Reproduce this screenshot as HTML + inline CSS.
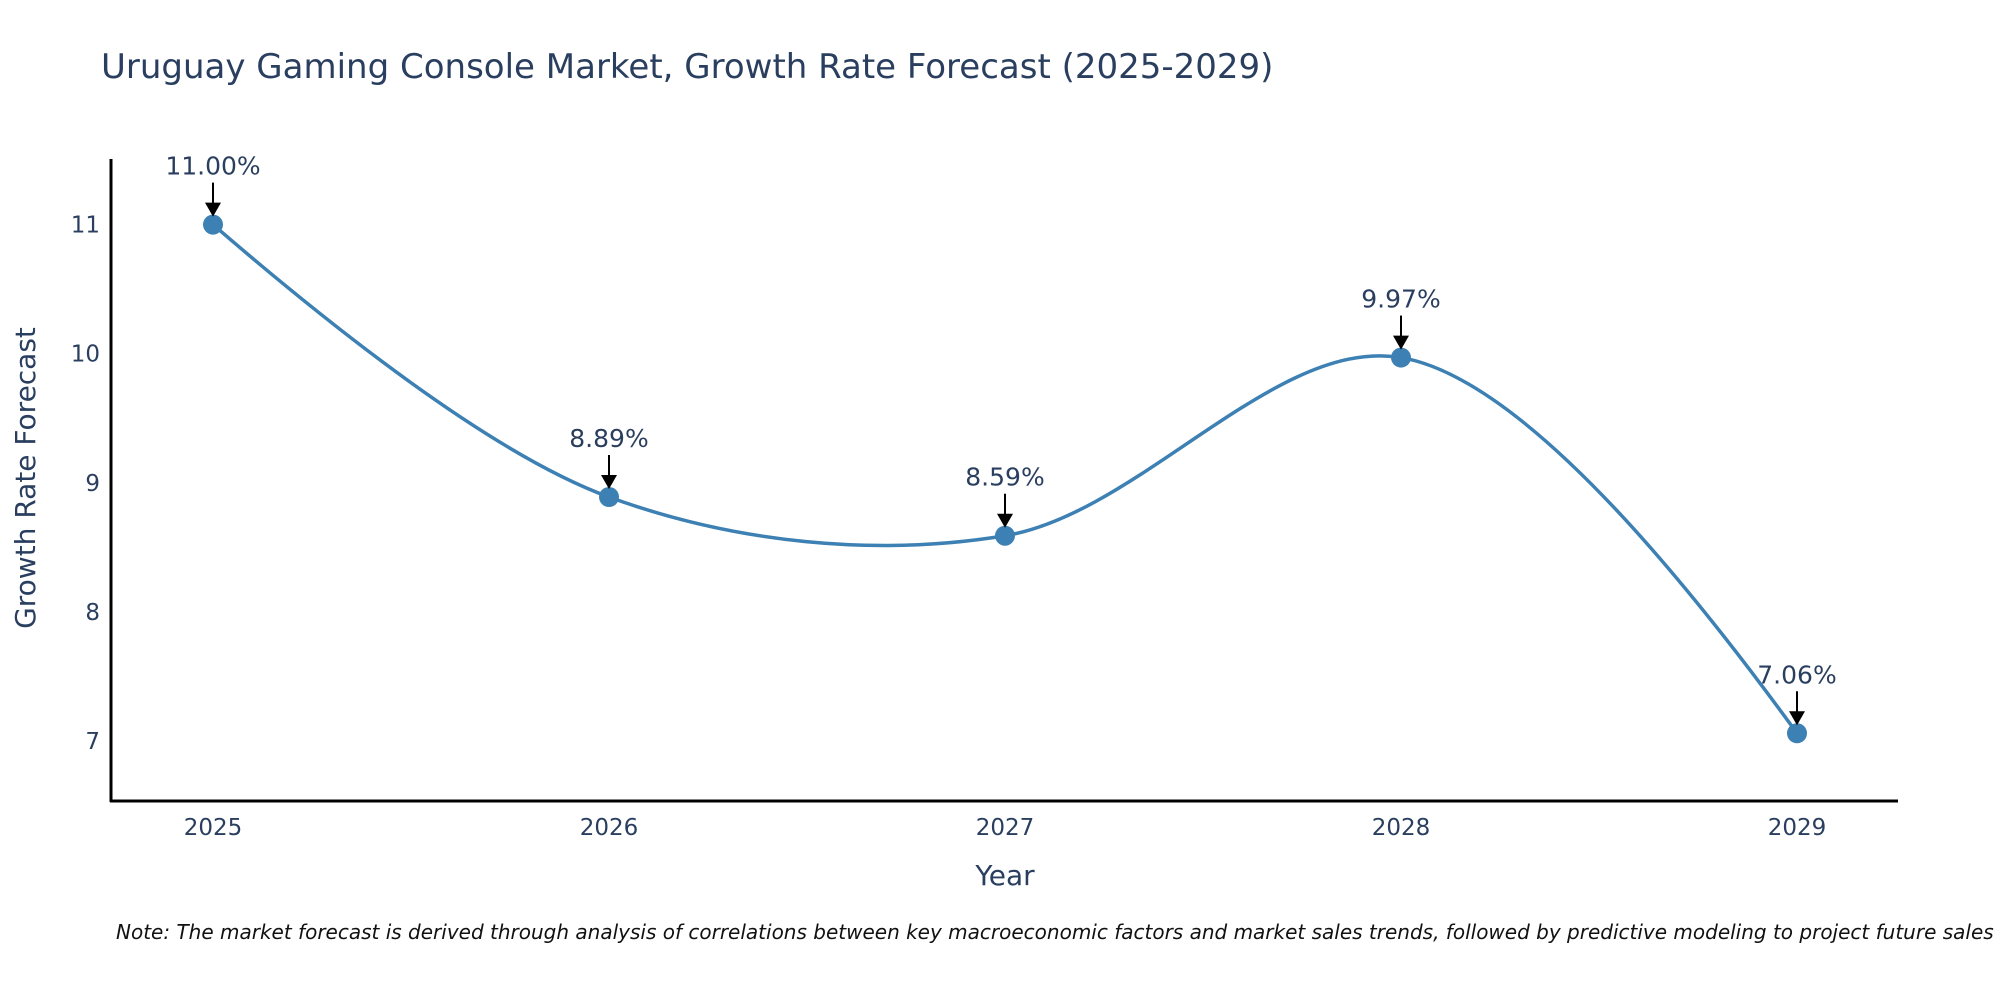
<!DOCTYPE html>
<html><head><meta charset="utf-8"><style>
html,body{margin:0;padding:0;background:#fff;overflow:hidden;}
svg text{font-family:"DejaVu Sans","Liberation Sans",sans-serif;}
</style></head><body>
<svg id="chart" width="2000" height="1000" viewBox="0 0 2000 1000" xmlns="http://www.w3.org/2000/svg">
<text x="101" y="78" font-size="34" fill="#2a3f5f">Uruguay Gaming Console Market, Growth Rate Forecast (2025-2029)</text>
<g id="axes"></g>
<g id="marks"></g>
<text x="1005" y="885" font-size="28" fill="#2a3f5f" text-anchor="middle">Year</text>
<text transform="translate(35,478) rotate(-90)" font-size="28" fill="#2a3f5f" text-anchor="middle">Growth Rate Forecast</text>
<text x="116" y="939" font-size="20" font-style="italic" fill="#111">Note: The market forecast is derived through analysis of correlations between key macroeconomic factors and market sales trends, followed by predictive modeling to project future sales</text>
</svg>
<script>
const years = ["2025","2026","2027","2028","2029"];
const values = [11.00, 8.89, 8.59, 9.97, 7.06];
const labels = ["11.00%","8.89%","8.59%","9.97%","7.06%"];
const yTicks = [7, 8, 9, 10, 11];

const NS = "http://www.w3.org/2000/svg";
const x0 = 213, x1 = 1797;
const xs = i => x0 + (x1 - x0) * i / (years.length - 1);
const ys = v => 741 - (v - 7) * 129.1;
function mk(tag, attrs, parent) {
  const e = document.createElementNS(NS, tag);
  for (const k in attrs) e.setAttribute(k, attrs[k]);
  parent.appendChild(e);
  return e;
}
const axes = document.getElementById('axes');
const marks = document.getElementById('marks');
let l = mk('line', {x1:111, y1:159, x2:111, y2:802, stroke:'#000', 'stroke-width':3}, axes);


l = mk('line', {x1:110, y1:801, x2:1898, y2:801, stroke:'#000', 'stroke-width':3}, axes);


yTicks.forEach(t => {
  const e = mk('text', {x:100, y:ys(t) + 8, 'font-size':23, fill:'#2a3f5f', 'text-anchor':'end'}, axes);
  e.textContent = t;
  
  
});
years.forEach((yr, i) => {
  const e = mk('text', {x:xs(i), y:835, 'font-size':23, fill:'#2a3f5f', 'text-anchor':'middle'}, axes);
  e.textContent = yr;
  
  
});
const pts = values.map((v, i) => [xs(i), ys(v)]);
function tangent(p, c, n) {
  const d1x = p[0]-c[0], d1y = p[1]-c[1], d2x = n[0]-c[0], d2y = n[1]-c[1];
  const d1a = Math.pow(d1x*d1x + d1y*d1y, 0.25), d2a = Math.pow(d2x*d2x + d2y*d2y, 0.25);
  const nx = d2a*d2a*d1x - d1a*d1a*d2x, ny = d2a*d2a*d1y - d1a*d1a*d2y;
  const den1 = 3*d2a*(d1a+d2a), den2 = 3*d1a*(d1a+d2a);
  return [[c[0]+nx/den1, c[1]+ny/den1], [c[0]-nx/den2, c[1]-ny/den2]];
}
const tg = [];
for (let i = 1; i < pts.length - 1; i++) tg.push(tangent(pts[i-1], pts[i], pts[i+1]));
let d = `M${pts[0]} Q${tg[0][0]} ${pts[1]}`;
for (let i = 1; i < pts.length - 2; i++) d += ` C${tg[i-1][1]} ${tg[i][0]} ${pts[i+1]}`;
d += ` Q${tg[tg.length-1][1]} ${pts[pts.length-1]}`;
const line = mk('path', {d: d, fill:'none', stroke:'#3d80b3', 'stroke-width':3.5}, marks);


pts.forEach((p, i) => {
  const c = mk('circle', {cx:p[0], cy:p[1], r:10, fill:'#3d80b3'}, marks);
  
  
  const a = mk('line', {x1:p[0], y1:p[1]-42, x2:p[0], y2:p[1]-20, stroke:'#000', 'stroke-width':2}, marks);
  
  
  const h = mk('polygon', {points:`${p[0]-8},${p[1]-22} ${p[0]+8},${p[1]-22} ${p[0]},${p[1]-8}`, fill:'#000'}, marks);
  
  
  const t = mk('text', {x:p[0], y:p[1]-50, 'font-size':25, fill:'#2a3f5f', 'text-anchor':'middle'}, marks);
  t.textContent = labels[i];
  
  
});
</script>
</body></html>
